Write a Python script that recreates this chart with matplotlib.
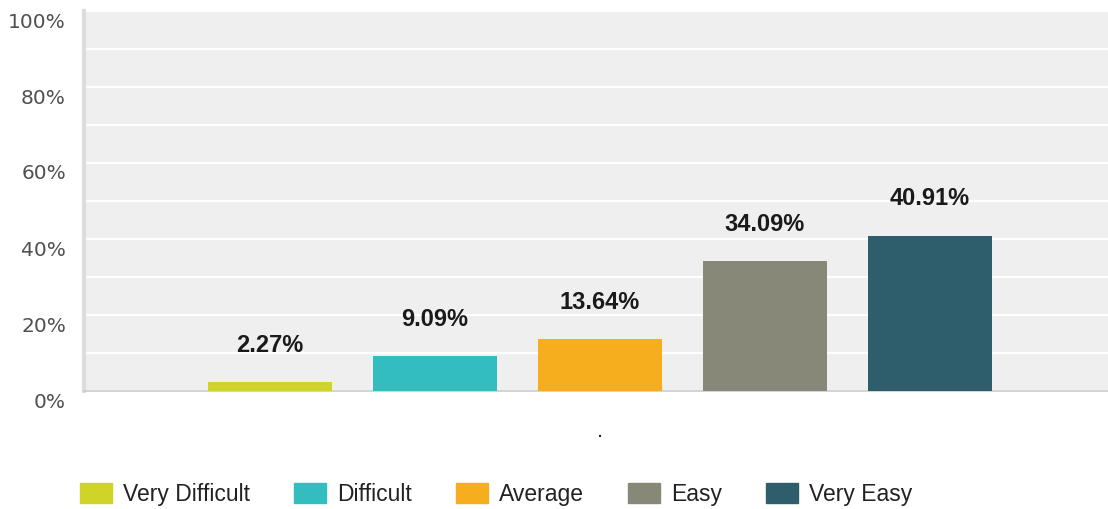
import matplotlib
matplotlib.use("Agg")
import matplotlib.pyplot as plt
import matplotlib.transforms as mtransforms
from matplotlib.patches import Patch

plt.rcParams['font.family'] = ['Liberation Sans', 'DejaVu Sans']

# data
categories = ["Very Difficult", "Difficult", "Average", "Easy", "Very Easy"]
values = [2.27, 9.09, 13.64, 34.09, 40.91]
colors = ["#cfd426", "#33bdc0", "#f6ae1f", "#888878", "#2e5e6b"]
group_label = "."
yticks = [0, 20, 40, 60, 80, 100]

fig = plt.figure(figsize=(11.08, 5.10), dpi=100)
ax = fig.add_axes([84 / 1108, 1 - 392 / 510, 1 - 84 / 1108, 380 / 510])
ax.set_facecolor("#efefef")

n = len(values)
offsets = [i - (n - 1) / 2 for i in range(n)]
for off, v, c in zip(offsets, values, colors):
    ax.bar(off, v, width=0.75, color=c, zorder=3)
    ax.annotate(f"{v:.2f}%", (off, v), xytext=(0, 38), textcoords="offset pixels",
                ha="center", va="center", fontsize=17, fontweight="bold",
                color="#1a1a1a", zorder=4)

ax.set_xlim(-516 / 165, 508 / 165)
ax.set_ylim(0, 100)

ax.set_yticks(range(0, 101, 10))
ax.set_yticklabels([f"{t}%" if t in yticks else "" for t in range(0, 101, 10)],
                   family="DejaVu Sans")
ax.grid(axis="y", color="white", linewidth=1.6, zorder=1)
ax.tick_params(axis="y", length=0, pad=13, labelsize=14.5, labelcolor="#505050")
for lab in ax.get_yticklabels():
    lab.set_transform(lab.get_transform() + mtransforms.ScaledTranslation(0, -8 / 100, fig.dpi_scale_trans))

ax.set_xticks([0])
ax.set_xticklabels([group_label])
ax.tick_params(axis="x", length=0, pad=21, labelsize=16, labelcolor="#222222")

for s in ["top", "right"]:
    ax.spines[s].set_visible(False)
ax.spines["left"].set_color("#dddddd")
ax.spines["left"].set_linewidth(3)
ax.spines["bottom"].set_color("#cccccc")
ax.spines["bottom"].set_linewidth(1.2)

handles = [Patch(facecolor=c, edgecolor=c, label=l) for l, c in zip(categories, colors)]
fig.legend(handles=handles, loc="center left", bbox_to_anchor=(80 / 1108, 1 - 495 / 510),
           ncol=5, frameon=False, fontsize=16.5, handlelength=1.4, handleheight=0.95,
           handletextpad=0.48, columnspacing=1.92, borderpad=0, borderaxespad=0,
           labelcolor="#222222")

fig.savefig("out.png", dpi=100)
